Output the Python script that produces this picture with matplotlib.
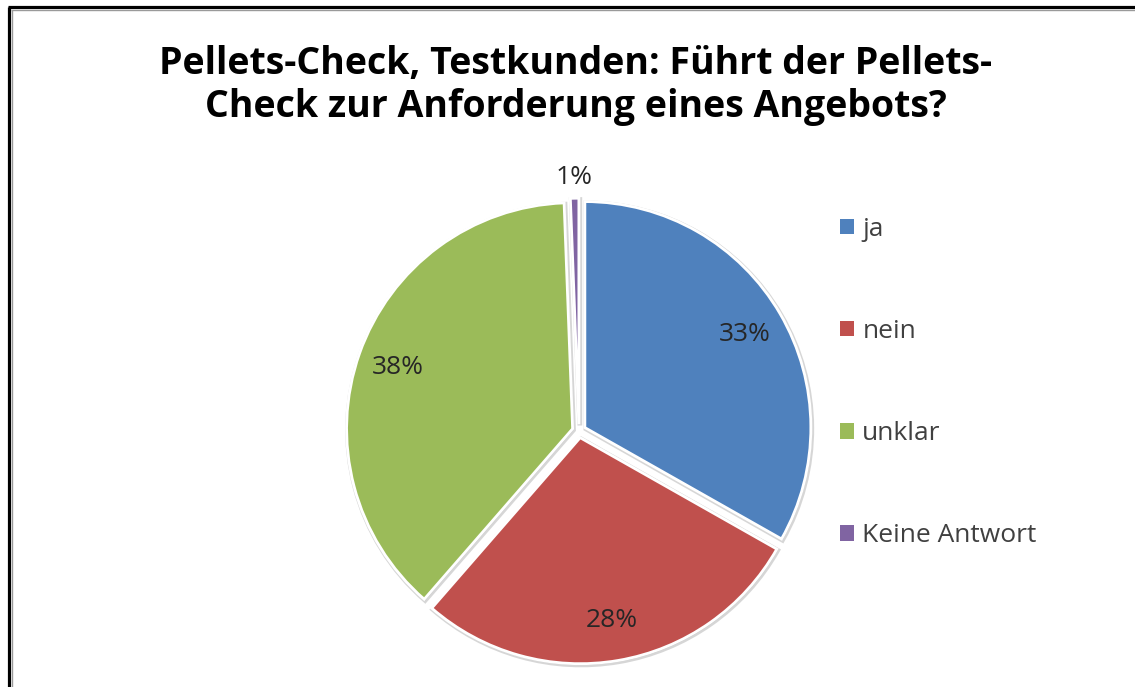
import matplotlib.pyplot as plt
import numpy as np
from matplotlib.lines import Line2D
from matplotlib.patches import Patch

# Daten
categories = ['ja', 'nein', 'unklar', 'Keine Antwort']
shares = [33.2, 28.2, 38.0, 0.6]
colors = ['#4F81BD', '#C0504D', '#9BBB59', '#8064A2']
title = 'Pellets-Check, Testkunden: Führt der Pellets-\nCheck zur Anforderung eines Angebots?'

plt.rcParams['font.family'] = ['Open Sans', 'DejaVu Sans']

W, H = 1135, 687
fig = plt.figure(figsize=(W / 100, H / 100), dpi=100)
ax = fig.add_axes([0, 0, 1, 1])

# Pie: Mittelpunkt und Radius in Pixeln
cx, cy, r = 579, 431, 226

def pct_fmt(p):
    return '' if p < 2 else f'{p:.0f}%'

wedges, texts, autotexts = ax.pie(
    shares, colors=colors, startangle=90, counterclock=False,
    explode=[0.03] * len(shares), autopct=pct_fmt, pctdistance=0.82,
    wedgeprops=dict(edgecolor='white', linewidth=2),
    shadow={'ox': 0.003, 'oy': -0.004, 'facecolor': '#9a9a9a', 'edgecolor': '#9a9a9a',
            'alpha': 0.4, 'linewidth': 3.4},
    textprops=dict(fontsize=19, color='#262626'), frame=False)

# kleine Anteile außerhalb beschriften
for w, v in zip(wedges, shares):
    if v < 2:
        ang = np.deg2rad((w.theta1 + w.theta2) / 2)
        ax.text(w.center[0] + 1.09 * np.cos(ang), w.center[1] + 1.09 * np.sin(ang),
                f'{v:.0f}%', ha='center', va='center', fontsize=19, color='#262626')

ax.set_xlim(-cx / r, (W - cx) / r)
ax.set_ylim(-(H - cy) / r, cy / r)
ax.set_aspect('auto')
ax.axis('off')

fig.text(0.507, 0.875, title, ha='center', va='center', fontsize=27,
         fontweight='bold', color='black', linespacing=1.17)

handles = [Patch(facecolor=c, edgecolor='none', label=l) for c, l in zip(colors, categories)]
fig.legend(handles=handles, loc='upper left', bbox_to_anchor=(0.740, 0.684),
           frameon=False, fontsize=19, labelspacing=2.92, handlelength=0.52,
           handleheight=0.52, handletextpad=0.33, borderpad=0, borderaxespad=0,
           labelcolor='#404040')

# Rahmen (oben und links)
fig.add_artist(Line2D([9 / W, 9 / W], [0, 1 - 7 / H], color='black', lw=2.3,
                      transform=fig.transFigure, solid_capstyle='butt'))
fig.add_artist(Line2D([11.5 / W, 11.5 / W], [0, 1 - 9.5 / H], color='#9a9a9a', lw=1,
                      transform=fig.transFigure, solid_capstyle='butt'))
fig.add_artist(Line2D([8 / W, 1], [1 - 7 / H, 1 - 7 / H], color='black', lw=2.3,
                      transform=fig.transFigure, solid_capstyle='butt'))
fig.add_artist(Line2D([10.5 / W, 1], [1 - 9.5 / H, 1 - 9.5 / H], color='#9a9a9a', lw=1,
                      transform=fig.transFigure, solid_capstyle='butt'))

fig.savefig('out.png', dpi=100)
